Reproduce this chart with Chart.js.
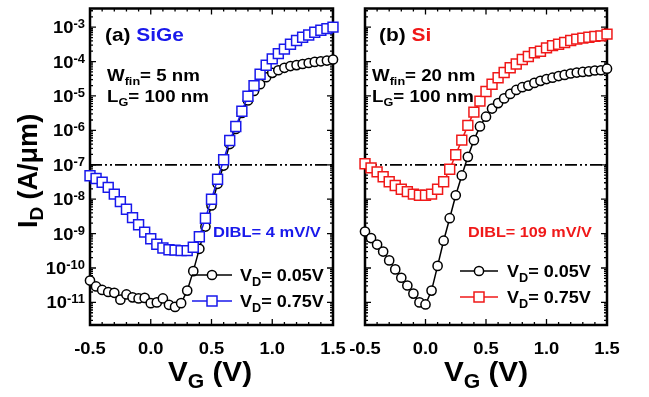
<!DOCTYPE html>
<html>
<head>
<meta charset="utf-8">
<script src="https://cdn.jsdelivr.net/npm/chart.js@4.4.0/dist/chart.umd.min.js"></script>
<style>
body { margin: 0; background: #fff; }
#wrap { position: relative; width: 649px; height: 397px; }
canvas { position: absolute; top: 0; }
</style>
</head>
<body>
<div id="wrap">
  <canvas id="chartA" width="360" height="397" style="left:0px"></canvas>
  <canvas id="chartB" width="304" height="397" style="left:345px"></canvas>
</div>
<script>
// gate voltage (V)
const vg = [-0.5, -0.45, -0.4, -0.35, -0.3, -0.25, -0.2, -0.15, -0.1, -0.05, 0, 0.05, 0.1, 0.15, 0.2, 0.25, 0.3, 0.35, 0.4, 0.45, 0.5,
            0.55, 0.6, 0.65, 0.7, 0.75, 0.8, 0.85, 0.9, 0.95, 1, 1.05, 1.1, 1.15, 1.2, 1.25, 1.3, 1.35, 1.4, 1.45, 1.5];

// (a) SiGe, Wfin 5 nm
const sige_vd005 = [4.3e-11, 2.9e-11, 2.3e-11, 2.0e-11, 1.9e-11, 1.2e-11, 1.7e-11, 1.4e-11, 1.3e-11, 1.35e-11,
                    9.5e-12, 1.0e-11, 1.3e-11, 8.5e-12, 7.4e-12, 9.5e-12, 2.2e-11, 8.1e-11, 3.6e-10, 1.6e-9,
                    6.6e-9, 2.8e-8, 9.5e-8, 4.0e-7, 1.1e-6, 3.2e-6, 7.4e-6, 1.4e-5, 2.2e-5, 3.5e-5,
                    4.7e-5, 5.6e-5, 6.6e-5, 7.4e-5, 7.9e-5, 8.5e-5, 9.1e-5, 9.8e-5, 1.02e-4, 1.07e-4, 1.15e-4];
const sige_vd075 = [4.8e-8, 4.0e-8, 3.1e-8, 2.2e-8, 1.4e-8, 8.5e-9, 5.1e-9, 2.9e-9, 1.8e-9, 1.1e-9,
                    7.1e-10, 4.9e-10, 3.8e-10, 3.4e-10, 3.3e-10, 3.2e-10, 3.2e-10, 4.0e-10, 8.1e-10, 2.8e-9,
                    1.0e-8, 3.8e-8, 1.4e-7, 5.1e-7, 1.3e-6, 3.6e-6, 9.8e-6, 2.0e-5, 4.3e-5, 7.8e-5,
                    1.2e-4, 1.7e-4, 2.3e-4, 3.2e-4, 4.1e-4, 5.1e-4, 5.9e-4, 7.1e-4, 8.1e-4, 9.1e-4, 1.0e-3];

// (b) Si, Wfin 20 nm
const si_vd005 = [1.15e-9, 7.4e-10, 4.8e-10, 3.0e-10, 1.66e-10, 9.1e-11, 5.2e-11, 3.1e-11, 1.8e-11, 1.0e-11,
                  8.7e-12, 2.2e-11, 1.15e-10, 6.2e-10, 2.8e-9, 1.3e-8, 4.9e-8, 1.7e-7, 5.2e-7, 1.3e-6,
                  2.5e-6, 4.3e-6, 6.2e-6, 8.5e-6, 1.15e-5, 1.5e-5, 1.8e-5, 2.0e-5, 2.4e-5, 2.75e-5,
                  3.1e-5, 3.4e-5, 3.8e-5, 4.1e-5, 4.5e-5, 4.8e-5, 5.0e-5, 5.2e-5, 5.5e-5, 5.6e-5, 6.2e-5];
const si_vd075 = [1.07e-7, 8.1e-8, 6.2e-8, 4.5e-8, 3.2e-8, 2.5e-8, 1.95e-8, 1.66e-8, 1.4e-8, 1.3e-8,
                  1.3e-8, 1.4e-8, 1.95e-8, 3.2e-8, 7.4e-8, 1.95e-7, 5.2e-7, 1.4e-6, 3.4e-6, 7.1e-6,
                  1.35e-5, 2.2e-5, 3.4e-5, 4.8e-5, 6.6e-5, 8.5e-5, 1.15e-4, 1.4e-4, 1.8e-4, 2.0e-4,
                  2.5e-4, 2.9e-4, 3.2e-4, 3.6e-4, 4.1e-4, 4.5e-4, 4.8e-4, 5.1e-4, 5.4e-4, 5.6e-4, 6.3e-4];

// dash-dot reference level
const refX = [-0.5, 1.5];
const refLevel = 1e-7;

// axes
const xTickVals = [-0.5, 0, 0.5, 1, 1.5];
const xTickLabels = ['-0.5', '0.0', '0.5', '1.0', '1.5'];
const yTickExp = [-3, -4, -5, -6, -7, -8, -9, -10, -11];
const Y_MIN = 2.2e-12, Y_MAX = 3.49e-3;

const BLUE = 'rgb(25,25,235)';
const RED = 'rgb(240,25,25)';
const FONT = '"Liberation Sans", Arial, Helvetica, sans-serif';
const SX = 1.1;

function rich(ctx, x, y, parts, align, sx) {
    sx = sx || SX;
    let w = 0;
    parts.forEach(p => { ctx.font = 'bold ' + p[1] + 'px ' + FONT; w += ctx.measureText(p[0]).width * sx; });
    let cx = align == 'center' ? x - w / 2 : (align == 'right' ? x - w : x);
    parts.forEach(p => {
        ctx.font = 'bold ' + p[1] + 'px ' + FONT;
        ctx.fillStyle = p[3] || '#000';
        ctx.save();
        ctx.translate(cx, y + (p[2] || 0));
        ctx.scale(sx, 1);
        ctx.textAlign = 'left';
        ctx.textBaseline = 'alphabetic';
        ctx.fillText(p[0], 0, 0);
        ctx.restore();
        cx += ctx.measureText(p[0]).width * sx;
    });
}

function legendItem(ctx, x1, x2, y, color, square, label, tx) {
    ctx.save();
    ctx.strokeStyle = color;
    ctx.lineWidth = 1.5;
    ctx.beginPath();
    ctx.moveTo(x1, y); ctx.lineTo(x2, y);
    ctx.stroke();
    const mx = (x1 + x2) / 2;
    ctx.fillStyle = '#fff';
    ctx.beginPath();
    if (square) ctx.rect(mx - 5, y - 5, 10, 10);
    else ctx.arc(mx, y, 4.6, 0, Math.PI * 2);
    ctx.fill();
    ctx.stroke();
    ctx.restore();
    rich(ctx, tx, y + 6, [['V', 17], ['D', 12, 5], [label, 17]], 'left', 1.06);
}

const framePlugin = {
    id: 'frame',
    beforeDatasetsDraw(chart) {
        const ctx = chart.ctx, a = chart.chartArea, x = chart.scales.x, y = chart.scales.y;
        ctx.save();
        ctx.strokeStyle = '#000';
        ctx.lineWidth = 1.3;
        ctx.beginPath();
        for (let k = -5; k <= 15; k++) {
            const px = x.getPixelForValue(k / 10);
            const len = k % 5 == 0 ? 6 : 3;
            ctx.moveTo(px, a.bottom); ctx.lineTo(px, a.bottom - len);
            ctx.moveTo(px, a.top); ctx.lineTo(px, a.top + len);
        }
        for (let e = -12; e <= -3; e++) {
            for (let m = 1; m <= 9; m++) {
                const val = m * Math.pow(10, e);
                if (val < Y_MIN || val > Y_MAX) continue;
                const py = y.getPixelForValue(val);
                const len = m == 1 ? 6 : 3;
                ctx.moveTo(a.left, py); ctx.lineTo(a.left + len, py);
                ctx.moveTo(a.right, py); ctx.lineTo(a.right - len, py);
            }
        }
        ctx.stroke();
        ctx.lineWidth = 2.5;
        ctx.strokeRect(a.left, a.top, a.right - a.left, a.bottom - a.top);
        ctx.restore();
    }
};

function textPlugin(offsetX, drawFn) {
    return {
        id: 'texts',
        afterDraw(chart) {
            const ctx = chart.ctx, x = chart.scales.x, y = chart.scales.y;
            ctx.save();
            xTickVals.forEach((v, i) => {
                rich(ctx, x.getPixelForValue(v), 354, [[xTickLabels[i], 17]], 'center', 1.08);
            });
            ctx.translate(-offsetX, 0);
            drawFn(ctx, y);
            ctx.restore();
        }
    };
}

function series(arr) {
    return vg.map((v, i) => ({x: v, y: arr[i]}));
}

function makePanel(id, lowData, highData, highColor, yWidth, padRight, offsetX, drawFn) {
    return new Chart(document.getElementById(id), {
        type: 'line',
        data: {
            datasets: [
                {
                    label: 'ref',
                    data: refX.map(v => ({x: v, y: refLevel})),
                    borderColor: '#000', borderWidth: 1.8,
                    borderDash: [12, 3, 2, 3, 2, 3],
                    pointRadius: 0, order: 3, clip: false
                },
                {
                    label: 'VD=0.05V',
                    data: series(lowData),
                    borderColor: '#000', borderWidth: 1.5,
                    pointStyle: 'circle', pointRadius: 4.6, pointBorderWidth: 1.5,
                    pointBackgroundColor: '#fff', pointBorderColor: '#000',
                    tension: 0, order: 2, clip: false
                },
                {
                    label: 'VD=0.75V',
                    data: series(highData),
                    borderColor: highColor, borderWidth: 1.5,
                    pointStyle: 'rect', pointRadius: 7, pointBorderWidth: 1.5,
                    pointBackgroundColor: '#fff', pointBorderColor: highColor,
                    tension: 0, order: 1, clip: false
                }
            ]
        },
        options: {
            responsive: false,
            animation: false,
            devicePixelRatio: 1,
            layout: { padding: { left: 0, right: padRight, top: 3, bottom: 0 } },
            plugins: { legend: { display: false }, tooltip: { enabled: false } },
            scales: {
                x: {
                    type: 'linear', min: -0.5, max: 1.5,
                    grid: { display: false, drawTicks: false },
                    border: { display: false },
                    ticks: { display: false },
                    afterFit(s) { s.height = 72; s.paddingLeft = 0; s.paddingRight = 0; }
                },
                y: {
                    type: 'logarithmic', min: Y_MIN, max: Y_MAX,
                    grid: { display: false, drawTicks: false },
                    border: { display: false },
                    ticks: { display: false },
                    afterFit(s) { s.width = yWidth; s.paddingTop = 0; s.paddingBottom = 0; }
                }
            }
        },
        plugins: [framePlugin, textPlugin(offsetX, drawFn)]
    });
}

// (a) SiGe
makePanel('chartA', sige_vd005, sige_vd075, BLUE, 90, 27, 0, function(ctx, y) {
    yTickExp.forEach(e => {
        const py = y.getPixelForValue(Math.pow(10, e));
        rich(ctx, 85, py, [['10', 17, 6], [String(e), 12, 1]], 'right', 1.08);
    });
    rich(ctx, 105, 41, [['(a) ', 19], ['SiGe', 19, 0, BLUE]]);
    rich(ctx, 107, 81, [['W', 17], ['fin', 11.5, 4], ['= 5 nm', 17]]);
    rich(ctx, 107, 102, [['L', 17], ['G', 11.5, 4], ['= 100 nm', 17]]);
    rich(ctx, 213, 237, [['DIBL= 4 mV/V', 15, 0, BLUE]], 'left', 1.1);
    legendItem(ctx, 192, 232, 275, '#000', false, '= 0.05V', 240);
    legendItem(ctx, 192, 232, 301, BLUE, true, '= 0.75V', 240);
    rich(ctx, 210, 381, [['V', 28], ['G', 20, 7], [' (V)', 28]], 'center', 1.06);
    ctx.save();
    ctx.translate(37, 171);
    ctx.rotate(-Math.PI / 2);
    rich(ctx, 0, 0, [['I', 27], ['D', 19, 6], [' (A/\u03bcm)', 27]], 'center', 1);
    ctx.restore();
});

// (b) Si
makePanel('chartB', si_vd005, si_vd075, RED, 20, 42, 345, function(ctx, y) {
    rich(ctx, 379, 41, [['(b) ', 19], ['Si', 19, 0, RED]]);
    rich(ctx, 372, 81, [['W', 17], ['fin', 11.5, 4], ['= 20 nm', 17]]);
    rich(ctx, 372, 102, [['L', 17], ['G', 11.5, 4], ['= 100 nm', 17]]);
    rich(ctx, 468, 237, [['DIBL= 109 mV/V', 15, 0, RED]], 'left', 1.08);
    legendItem(ctx, 460, 498, 271, '#000', false, '= 0.05V', 507);
    legendItem(ctx, 460, 498, 297, RED, true, '= 0.75V', 507);
    rich(ctx, 486, 381, [['V', 28], ['G', 20, 7], [' (V)', 28]], 'center', 1.06);
});
</script>
</body>
</html>
